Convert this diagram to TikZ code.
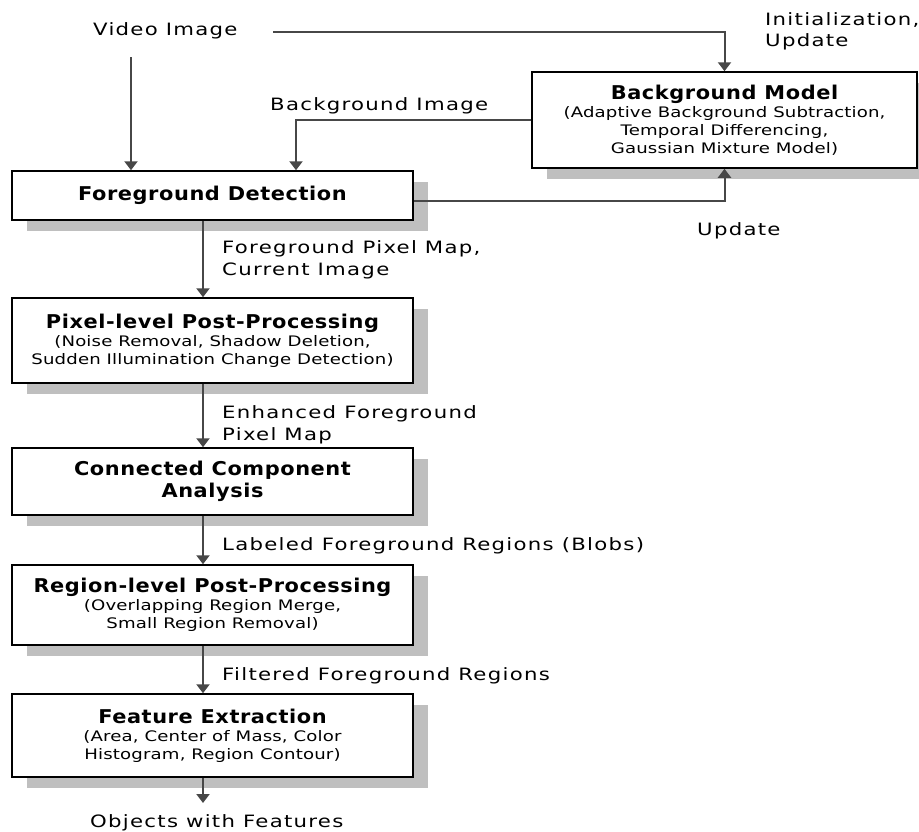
\documentclass[tikz,border=0pt]{standalone}
\usepackage{fontspec}
\setmainfont{DejaVu Sans}
\newfontfamily\lblfont[FakeStretch=1.25,LetterSpace=7.5]{DejaVu Sans}
\newfontfamily\boxfont[FakeStretch=1.25,LetterSpace=1]{DejaVu Sans}
\newfontfamily\titlefont[FakeStretch=1.1,LetterSpace=3]{DejaVu Sans Bold}
\usetikzlibrary{arrows.meta,shadows,calc}
\newcommand\boxtitle[1]{{\titlefont\fontsize{19}{21}\selectfont #1}}
\begin{document}
\begin{tikzpicture}[x=1pt,y=-1pt,
  box/.style={draw=black,line width=1.5pt,fill=white,minimum width=401pt,inner sep=0pt,align=center,
    drop shadow={shadow xshift=15pt,shadow yshift=-11pt,fill=black!25,opacity=1},
    font=\boxfont\fontsize{14.5}{18}\selectfont},
  conn/.style={line width=2pt,draw=black!72},
  arr/.style={conn,-{Triangle[width=13pt,length=9pt]}},
  lbl/.style={inner sep=0pt,font=\lblfont\fontsize{17}{21}\selectfont},
]
\useasboundingbox[fill=white] (0,0) rectangle (919,831);

% boxes
\node[box,minimum height=49pt] (fd) at (212.5,195.5) {\boxtitle{Foreground Detection}};
\node[box,minimum height=85pt] (px) at (212.5,340.5)
  {\boxtitle{Pixel-level Post-Processing}\\(Noise Removal, Shadow Deletion,\\Sudden Illumination Change Detection)};
\node[box,minimum height=67pt] (cc) at (212.5,481.5)
  {\boxtitle{Connected Component}\\[3pt]\boxtitle{Analysis}};
\node[box,minimum height=80pt] (rg) at (212.5,605)
  {\boxtitle{Region-level Post-Processing}\\(Overlapping Region Merge,\\Small Region Removal)};
\node[box,minimum height=83pt] (fe) at (212.5,735.5)
  {\boxtitle{Feature Extraction}\\(Area, Center of Mass, Color\\Histogram, Region Contour)};
\node[box,minimum width=385pt,minimum height=96pt] (bg) at (724.5,120)
  {\boxtitle{Background Model}\\(Adaptive Background Subtraction,\\Temporal Differencing,\\Gaussian Mixture Model)};

% labels
\node[lbl,anchor=base west] (vid) at (93,35) {Video Image};
\node[lbl,anchor=base west] (init1) at (765,25) {Initialization,};
\node[lbl,anchor=base west] (init2) at (765,46) {Update};
\node[lbl,anchor=base west] (bgi) at (270,110) {Background Image};
\node[lbl,anchor=base west] (upd) at (697,235) {Update};
\node[lbl,anchor=base west] (l1a) at (222,253) {Foreground Pixel Map,};
\node[lbl,anchor=base west] (l1b) at (222,275) {Current Image};
\node[lbl,anchor=base west] (l2a) at (222,418) {Enhanced Foreground};
\node[lbl,anchor=base west] (l2b) at (222,440) {Pixel Map};
\node[lbl,anchor=base west] (l3) at (222,550) {Labeled Foreground Regions (Blobs)};
\node[lbl,anchor=base west] (l4) at (222,680) {Filtered Foreground Regions};
\node[lbl,anchor=base west] (objs) at (90,827) {Objects with Features};

% connectors
\coordinate (vs) at (131,57);
\draw[arr] (vs) -- (vs |- fd.north);
\coordinate (hs) at (273,32);
\draw[arr] (hs) -| (bg.north);
\coordinate (bi) at (296,0);
\draw[arr] (bg.west) -| (bi |- fd.north);
\draw[arr] ([yshift=-5.5pt]fd.east) -| (bg.south);
\draw[arr] ([xshift=-9.5pt]fd.south) -- ([xshift=-9.5pt]px.north);
\draw[arr] ([xshift=-9.5pt]px.south) -- ([xshift=-9.5pt]cc.north);
\draw[arr] ([xshift=-9.5pt]cc.south) -- ([xshift=-9.5pt]rg.north);
\draw[arr] ([xshift=-9.5pt]rg.south) -- ([xshift=-9.5pt]fe.north);
\coordinate (out) at (203,803);
\draw[arr] ([xshift=-9.5pt]fe.south) -- (out);
\end{tikzpicture}
\end{document}
